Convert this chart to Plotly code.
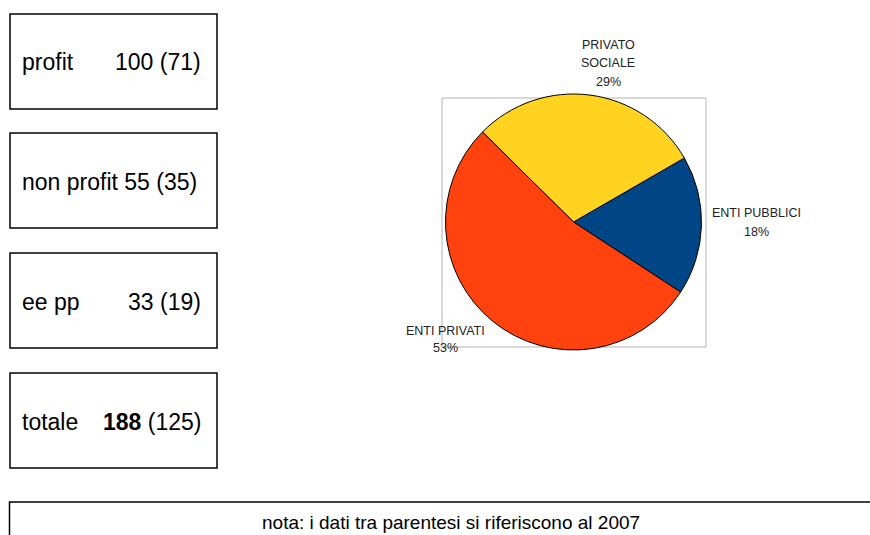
import plotly.graph_objects as go

W, H = 870, 535

# ---- data ----
categories = ["ENTI PUBBLICI", "PRIVATO SOCIALE", "ENTI PRIVATI"]
values = [33, 55, 100]
colors = ["#004586", "#FFD320", "#FF420E"]

box_labels = ["profit", "non profit", "ee pp", "totale"]
box_values = [100, 55, 33, 188]
box_prev = [71, 35, 19, 125]
note_text = "nota: i dati tra parentesi si riferiscono al 2007"

FONT = "Liberation Sans, Arial, sans-serif"


def px(x):
    return x / W


def py(y):
    return 1 - y / H


fig = go.Figure()

# pie
cx, cy, d = 573.5, 222, 256
fig.add_trace(go.Pie(
    labels=categories,
    values=values,
    marker=dict(colors=colors, line=dict(color="#000000", width=1)),
    sort=False,
    direction="counterclockwise",
    rotation=60,
    textinfo="none",
    hoverinfo="label+percent",
    showlegend=False,
    domain=dict(x=[px(cx - d / 2), px(cx + d / 2)], y=[py(cy + d / 2), py(cy - d / 2)]),
))

shapes = []
annotations = []

# frame around pie
shapes.append(dict(type="rect", xref="paper", yref="paper",
                   x0=px(442), x1=px(706), y0=py(347), y1=py(98),
                   line=dict(color="#b3b3b3", width=1), layer="below"))

# pie labels
total = sum(values)
label_pos = {
    "PRIVATO SOCIALE": (608, [45, 63.5, 82], ["PRIVATO", "SOCIALE"]),
    "ENTI PUBBLICI": (756, [213, 232], ["ENTI PUBBLICI"]),
    "ENTI PRIVATI": (446, [331, 348], ["ENTI PRIVATI"]),
}
for cat, v in zip(categories, values):
    xc, ys, words = label_pos[cat]
    lines = words + [f"{round(100 * v / total)}%"]
    for line, yy in zip(lines, ys):
        annotations.append(dict(xref="paper", yref="paper", x=px(xc), y=py(yy),
                                text=line, showarrow=False, xanchor="center", yanchor="middle",
                                font=dict(family=FONT, size=12.5, color="#222222")))

# left boxes
box_tops = [14, 133, 253, 373]
box_h = 95
BF = 23
for i, (lab, val, prev) in enumerate(zip(box_labels, box_values, box_prev)):
    y0 = box_tops[i]
    shapes.append(dict(type="rect", xref="paper", yref="paper",
                       x0=px(10), x1=px(217), y0=py(y0 + box_h), y1=py(y0),
                       line=dict(color="#000000", width=1.5)))
    yc = y0 + box_h / 2 + 1
    if lab == "non profit":
        annotations.append(dict(xref="paper", yref="paper", x=px(20), y=py(yc),
                                text=f"{lab} {val} ({prev})", showarrow=False,
                                xanchor="left", yanchor="middle",
                                font=dict(family=FONT, size=BF, color="#000000")))
        continue
    valtxt = f"<b>{val}</b> ({prev})" if lab == "totale" else f"{val} ({prev})"
    annotations.append(dict(xref="paper", yref="paper", x=px(20), y=py(yc),
                            text=lab, showarrow=False, xanchor="left", yanchor="middle",
                            font=dict(family=FONT, size=BF, color="#000000")))
    annotations.append(dict(xref="paper", yref="paper", x=px(203), y=py(yc),
                            text=valtxt, showarrow=False, xanchor="right", yanchor="middle",
                            font=dict(family=FONT, size=BF, color="#000000")))

# note box
shapes.append(dict(type="rect", xref="paper", yref="paper",
                   x0=px(9.5), x1=px(880), y0=py(545), y1=py(502),
                   line=dict(color="#000000", width=1.5)))
annotations.append(dict(xref="paper", yref="paper", x=px(451), y=py(522),
                        text=note_text, showarrow=False, xanchor="center", yanchor="middle",
                        font=dict(family=FONT, size=19, color="#000000")))

fig.update_layout(
    width=W, height=H,
    margin=dict(l=0, r=0, t=0, b=0),
    paper_bgcolor="#ffffff",
    plot_bgcolor="#ffffff",
    shapes=shapes,
    annotations=annotations,
)

fig.write_html("out.html", include_plotlyjs=True, config={"displayModeBar": False},
               post_script="document.body.style.margin='0';document.body.style.overflow='hidden';")
